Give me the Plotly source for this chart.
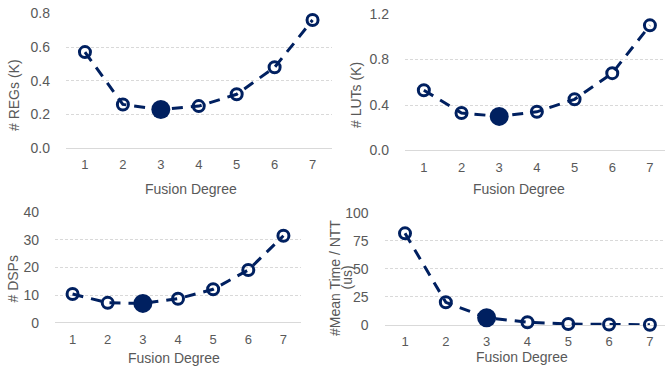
import plotly.graph_objects as go

W, H = 665, 371

fusion_degree = [1, 2, 3, 4, 5, 6, 7]
regs_k = [0.57, 0.26, 0.23, 0.25, 0.32, 0.48, 0.76]
luts_k = [0.53, 0.33, 0.30, 0.34, 0.45, 0.68, 1.10]
dsps = [10.4, 7.2, 7.0, 8.7, 12.1, 19.1, 31.5]
mean_time_us = [81.6, 20.2, 6.5, 2.4, 0.9, 0.4, 0.2]
highlight_idx = 2

y_titles = ["# REGs (K)", "# LUTs (K)", "# DSPs", ["#Mean Time / NTT", "(us)"]]
y_ticks = [[0, 0.2, 0.4, 0.6, 0.8], [0, 0.4, 0.8, 1.2], [0, 10, 20, 30, 40], [0, 25, 50, 75, 100]]
y_ticktext = [["0.0", "0.2", "0.4", "0.6", "0.8"], ["0.0", "0.4", "0.8", "1.2"],
              ["0", "10", "20", "30", "40"], ["0", "25", "50", "75", "100"]]
y_ranges = [[0, 0.8], [0, 1.2], [0, 40], [0, 100]]
x_title = "Fusion Degree"

NAVY = "#002060"
GRAY = "#595959"
GRID = "#d9d9d9"
FONT = "Liberation Sans, Arial, sans-serif"

series = [regs_k, luts_k, dsps, mean_time_us]


def px(x):
    return x / W


def py(y):
    return 1 - y / H


# panel geometry in screen pixels: (x_left, x_right, y_top, y_bottom)
geom = [(66, 331.5, 13.3, 148.3), (405, 665, 14, 150.5), (55, 301, 212.3, 322.7), (384.6, 665, 212.7, 325)]
x_ranges = [[0.5, 7.5], [0.5, 7.4], [0.5, 7.5], [0.5, 7.37]]

fig = go.Figure()
for i, ys in enumerate(series):
    ax = "" if i == 0 else str(i + 1)
    fig.add_trace(go.Scatter(
        x=fusion_degree, y=ys, mode="lines+markers",
        line=dict(color=NAVY, width=3, dash="11px,8px"),
        marker=dict(symbol="circle-open", size=11, color=NAVY, line=dict(width=3, color=NAVY)),
        cliponaxis=False, showlegend=False, xaxis="x" + ax, yaxis="y" + ax))
    fig.add_trace(go.Scatter(
        x=[fusion_degree[highlight_idx]], y=[ys[highlight_idx]], mode="markers",
        marker=dict(symbol="circle", size=19, color=NAVY),
        cliponaxis=False, showlegend=False, xaxis="x" + ax, yaxis="y" + ax))
    xl, xr, yt, yb = geom[i]
    fig.update_layout(**{
        "xaxis" + ax: dict(domain=[px(xl), px(xr)], range=x_ranges[i], anchor="y" + ax,
                           tickvals=fusion_degree, showgrid=False, zeroline=False, showline=False,
                           automargin=False, ticklabeloverflow="allow",
                           ticks="", tickfont=dict(size=13, color=GRAY, family=FONT),
                           ticklabelstandoff=7),
        "yaxis" + ax: dict(domain=[py(yb), py(yt)], range=y_ranges[i], anchor="x" + ax,
                           tickvals=y_ticks[i], ticktext=y_ticktext[i], automargin=False,
                           ticklabeloverflow="allow",
                           showgrid=True, gridcolor=GRID, griddash="3px,2px", gridwidth=1,
                           zeroline=True, zerolinecolor=GRID, zerolinewidth=1.3, showline=False,
                           ticks="", tickfont=dict(size=14, color=GRAY, family=FONT),
                           ticklabelstandoff=15),
    })

annotations = []
# x-axis titles
for (x, y) in [(190.8, 189), (519, 189), (173.8, 358.3), (521.7, 356.7)]:
    annotations.append(dict(text=x_title, x=px(x), y=py(y), xref="paper", yref="paper",
                            showarrow=False, xanchor="center", yanchor="middle",
                            font=dict(size=14, color=GRAY, family=FONT)))
# y-axis titles
ypos = [[(14, 95)], [(356, 95)], [(12.5, 279)], [(335, 278), (346.5, 277)]]
for i, t in enumerate(y_titles):
    texts = t if isinstance(t, list) else [t]
    for txt, (x, y) in zip(texts, ypos[i]):
        annotations.append(dict(text=txt, x=px(x), y=py(y), xref="paper", yref="paper",
                                showarrow=False, xanchor="center", yanchor="middle", textangle=-90,
                                font=dict(size=14, color=GRAY, family=FONT)))

fig.update_layout(width=W, height=H, margin=dict(l=0, r=0, t=0, b=0, autoexpand=False),
                  template="none",
                  paper_bgcolor="white", plot_bgcolor="white",
                  font=dict(family=FONT, color=GRAY), annotations=annotations)

fig.write_html("out.html", config={"displayModeBar": False},
               post_script="document.body.style.margin='0';document.body.style.overflow='hidden';")
